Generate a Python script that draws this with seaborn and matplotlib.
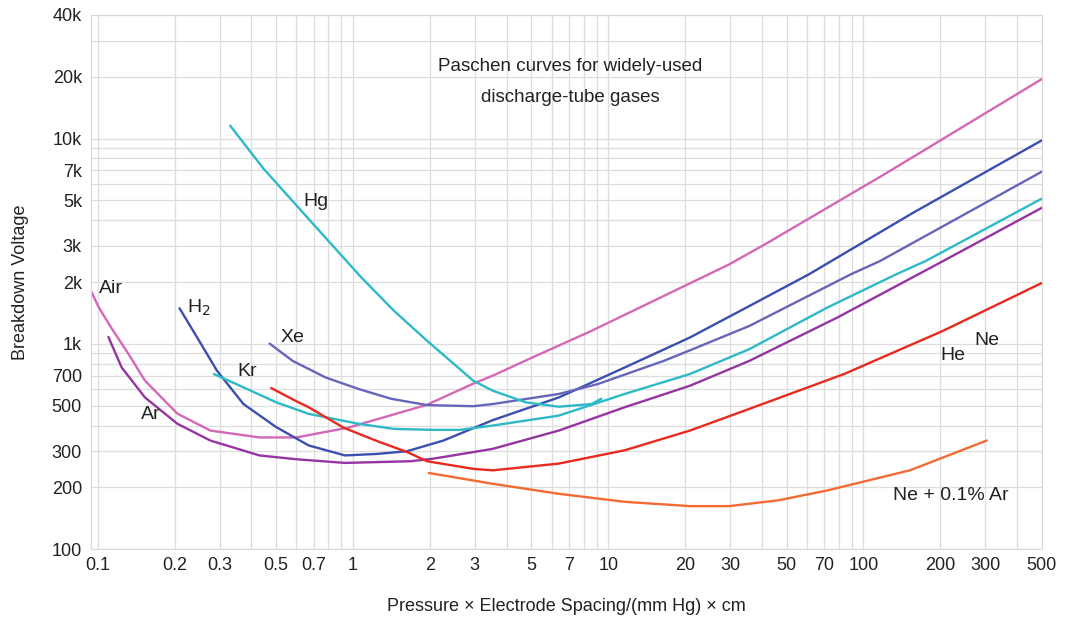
import numpy as np
import matplotlib
matplotlib.use("Agg")
import matplotlib.pyplot as plt
import matplotlib.ticker as mticker
import seaborn as sns

# values (pd in mm Hg x cm, breakdown voltage in V)
air_x = [0.094, 0.101, 0.113, 0.132, 0.153, 0.205, 0.276, 0.43, 0.6, 0.96, 1.95, 2.96, 3.53, 5.04, 8.6, 29.8, 42, 123, 500]
air_v = [1810, 1500, 1195, 891, 662, 457, 378, 350, 350, 391, 505, 640, 700, 858, 1157, 2440, 3100, 6790, 19500]

ar_x = [0.110, 0.124, 0.153, 0.205, 0.276, 0.43, 0.6, 0.93, 1.68, 2.07, 2.96, 3.53, 6.4, 11.6, 20.9, 35.7, 79, 205, 500]
ar_v = [1080, 767, 548, 408, 338, 286, 274, 263, 268, 276, 297, 308, 378, 491, 625, 826, 1343, 2530, 4600]

h2_x = [0.209, 0.245, 0.293, 0.372, 0.50, 0.67, 0.93, 1.25, 1.63, 2.26, 3.53, 6.4, 11.6, 20.9, 35.7, 61, 156, 500]
h2_v = [1490, 1074, 740, 509, 393, 320, 286, 291, 300, 338, 425, 548, 767, 1074, 1528, 2178, 4340, 9800]

xe_x = [0.471, 0.58, 0.78, 1.05, 1.41, 1.95, 2.96, 3.53, 6.4, 9.1, 16.5, 20.9, 35.7, 89, 116, 500]
xe_v = [1003, 826, 686, 603, 540, 503, 497, 509, 570, 637, 826, 930, 1222, 2178, 2530, 6900]

kr_x = [0.285, 0.372, 0.50, 0.67, 1.05, 1.45, 2.07, 2.63, 3.53, 6.4, 11.6, 20.9, 35.7, 72, 134, 175, 500]
kr_v = [713, 614, 519, 456, 408, 385, 381, 381, 400, 447, 570, 713, 942, 1500, 2178, 2530, 5100]

hg_x = [0.33, 0.444, 0.597, 0.803, 1.08, 1.45, 1.95, 2.45, 2.96, 3.53, 4.75, 6.4, 8.6, 9.4]
hg_v = [11560, 7180, 4760, 3160, 2100, 1445, 1035, 810, 661, 591, 519, 494, 509, 540]

ne_x = [0.478, 0.6, 0.67, 0.92, 1.25, 1.63, 1.95, 2.96, 3.53, 6.4, 11.6, 20.9, 35.7, 84, 205, 500]
ne_v = [609, 525, 491, 390, 335, 297, 268, 246, 242, 261, 303, 378, 482, 713, 1157, 1980]

near_x = [1.98, 3.53, 6.4, 11.6, 20.9, 29.8, 46.5, 72, 152, 304]
near_v = [235, 208, 186, 170, 162, 162, 173, 193, 242, 338]

x_ticks = [0.1, 0.2, 0.3, 0.5, 0.7, 1, 2, 3, 5, 7, 10, 20, 30, 50, 70, 100, 200, 300, 500]
x_labels = ["0.1", "0.2", "0.3", "0.5", "0.7", "1", "2", "3", "5", "7", "10",
            "20", "30", "50", "70", "100", "200", "300", "500"]
y_ticks = [100, 200, 300, 500, 700, 1000, 2000, 3000, 5000, 7000, 10000, 20000, 40000]
y_labels = ["100", "200", "300", "500", "700", "1k", "2k", "3k", "5k", "7k", "10k", "20k", "40k"]

sns.set_style("white")
plt.rcParams["font.family"] = ["Liberation Sans", "DejaVu Sans"]

fig = plt.figure(figsize=(10.83, 6.24), dpi=100)
ax = fig.add_axes([0.084, 0.120, 0.878, 0.856])

curves = [
    (air_x, air_v, "#d468b6"),
    (ar_x, ar_v, "#9634a2"),
    (h2_x, h2_v, "#3b4fae"),
    (xe_x, xe_v, "#6566b9"),
    (kr_x, kr_v, "#2db9c7"),
    (hg_x, hg_v, "#2db9c7"),
    (ne_x, ne_v, "#e82a1e"),
    (near_x, near_v, "#f36a34"),
]
for xs, vs, col in curves:
    sns.lineplot(x=xs, y=vs, ax=ax, color=col, linewidth=1.7, sort=False,
                 estimator=None, solid_joinstyle="round", solid_capstyle="round")

ax.set_xscale("log")
ax.set_yscale("log")
ax.set_xlim(0.094, 500)
ax.set_ylim(100, 40000)

ax.xaxis.set_major_locator(mticker.FixedLocator(x_ticks))
ax.xaxis.set_major_formatter(mticker.FixedFormatter(x_labels))
ax.yaxis.set_major_locator(mticker.FixedLocator(y_ticks))
ax.yaxis.set_major_formatter(mticker.FixedFormatter(y_labels))
ax.xaxis.set_minor_locator(mticker.LogLocator(base=10, subs=np.arange(1, 10)))
ax.yaxis.set_minor_locator(mticker.LogLocator(base=10, subs=np.arange(1, 10)))
ax.xaxis.set_minor_formatter(mticker.NullFormatter())
ax.yaxis.set_minor_formatter(mticker.NullFormatter())

ax.grid(True, which="both", color="#dddddd", linewidth=0.9)
ax.set_axisbelow(True)
for s in ax.spines.values():
    s.set_color("#d8d8d8")
ax.tick_params(axis="x", which="both", length=0, labelsize=13, colors="#222222", pad=6)
ax.tick_params(axis="y", which="major", length=3, color="#cccccc", labelsize=13, labelcolor="#222222")
ax.tick_params(axis="y", which="minor", length=0)

ax.set_xlabel("Pressure \u00d7 Electrode Spacing/(mm Hg) \u00d7 cm", fontsize=13, color="#222222", labelpad=17)
ax.set_ylabel("Breakdown Voltage", fontsize=13, color="#222222", labelpad=16)

# curve labels
lab = dict(fontsize=14, color="#222222", va="center", ha="left")
ax.text(0.101, 1850, "Air", **lab)
ax.text(0.224, 1500, "H$_2$", **lab)
ax.text(0.518, 1070, "Xe", **lab)
ax.text(0.353, 731, "Kr", **lab)
ax.text(0.148, 452, "Ar", **lab)
ax.text(0.636, 4940, "Hg", **lab)
ax.text(200, 880, "He", **lab)
ax.text(272, 1040, "Ne", **lab)
ax.text(130, 183, "Ne + 0.1% Ar", **lab)

ax.text(0.504, 0.904, "Paschen curves for widely-used", transform=ax.transAxes,
        fontsize=13.5, color="#222222", ha="center", va="center")
ax.text(0.504, 0.846, "discharge-tube gases", transform=ax.transAxes,
        fontsize=13.5, color="#222222", ha="center", va="center")

fig.savefig("out.png", dpi=100)
